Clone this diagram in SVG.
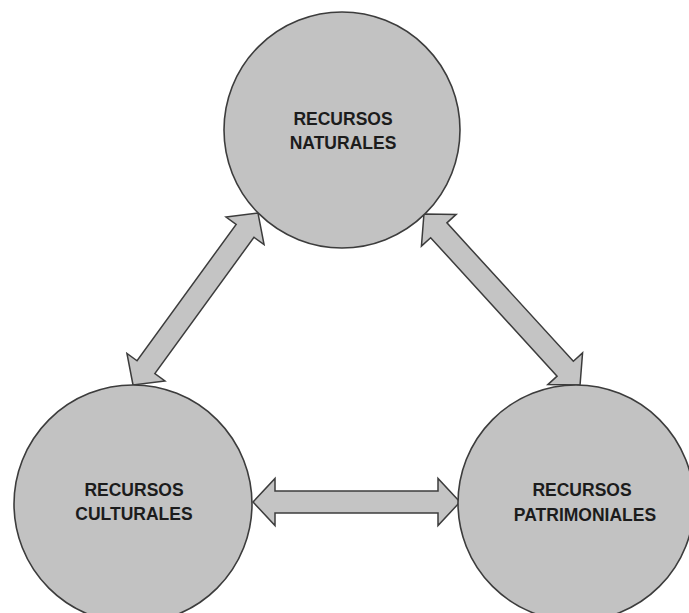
<svg xmlns="http://www.w3.org/2000/svg" width="689" height="613" viewBox="0 0 689 613">
  <style>
    .node { fill: #c2c2c2; stroke: #3c3c3c; stroke-width: 1.6; }
    .arrow { fill: #c4c4c4; stroke: #3c3c3c; stroke-width: 1.5; stroke-linejoin: miter; }
    .label { font-family: "Liberation Sans", Arial, sans-serif; font-weight: bold; font-size: 17.5px; fill: #1c1c1c; text-anchor: middle; }
  </style>
  <rect width="689" height="613" fill="#ffffff"/>

  <!-- double-headed block arrows -->
  <g id="connectors">
    <path class="arrow" transform="translate(195.5,299) rotate(-54)"
          d="M-106.3,0 L-84.3,-23.5 L-84.3,-11 L84.3,-11 L84.3,-23.5 L106.3,0 L84.3,23.5 L84.3,11 L-84.3,11 L-84.3,23.5 Z"/>
    <path class="arrow" transform="translate(502,299.5) rotate(47.6)"
          d="M-115.75,0 L-93.75,-23.5 L-93.75,-11 L93.75,-11 L93.75,-23.5 L115.75,0 L93.75,23.5 L93.75,11 L-93.75,11 L-93.75,23.5 Z"/>
    <path class="arrow" transform="translate(356.5,502)"
          d="M-103.5,0 L-81.5,-23.5 L-81.5,-11 L81.5,-11 L81.5,-23.5 L103.5,0 L81.5,23.5 L81.5,11 L-81.5,11 L-81.5,23.5 Z"/>
  </g>

  <g id="naturales">
    <circle class="node" cx="342" cy="130" r="118"/>
    <text class="label" x="343" y="125">RECURSOS</text>
    <text class="label" x="343" y="149">NATURALES</text>
  </g>

  <g id="culturales">
    <circle class="node" cx="133" cy="504" r="119"/>
    <text class="label" x="134" y="496">RECURSOS</text>
    <text class="label" x="134" y="520">CULTURALES</text>
  </g>

  <g id="patrimoniales">
    <circle class="node" cx="576" cy="503" r="118"/>
    <text class="label" x="582" y="496">RECURSOS</text>
    <text class="label" x="585" y="521">PATRIMONIALES</text>
  </g>
</svg>
